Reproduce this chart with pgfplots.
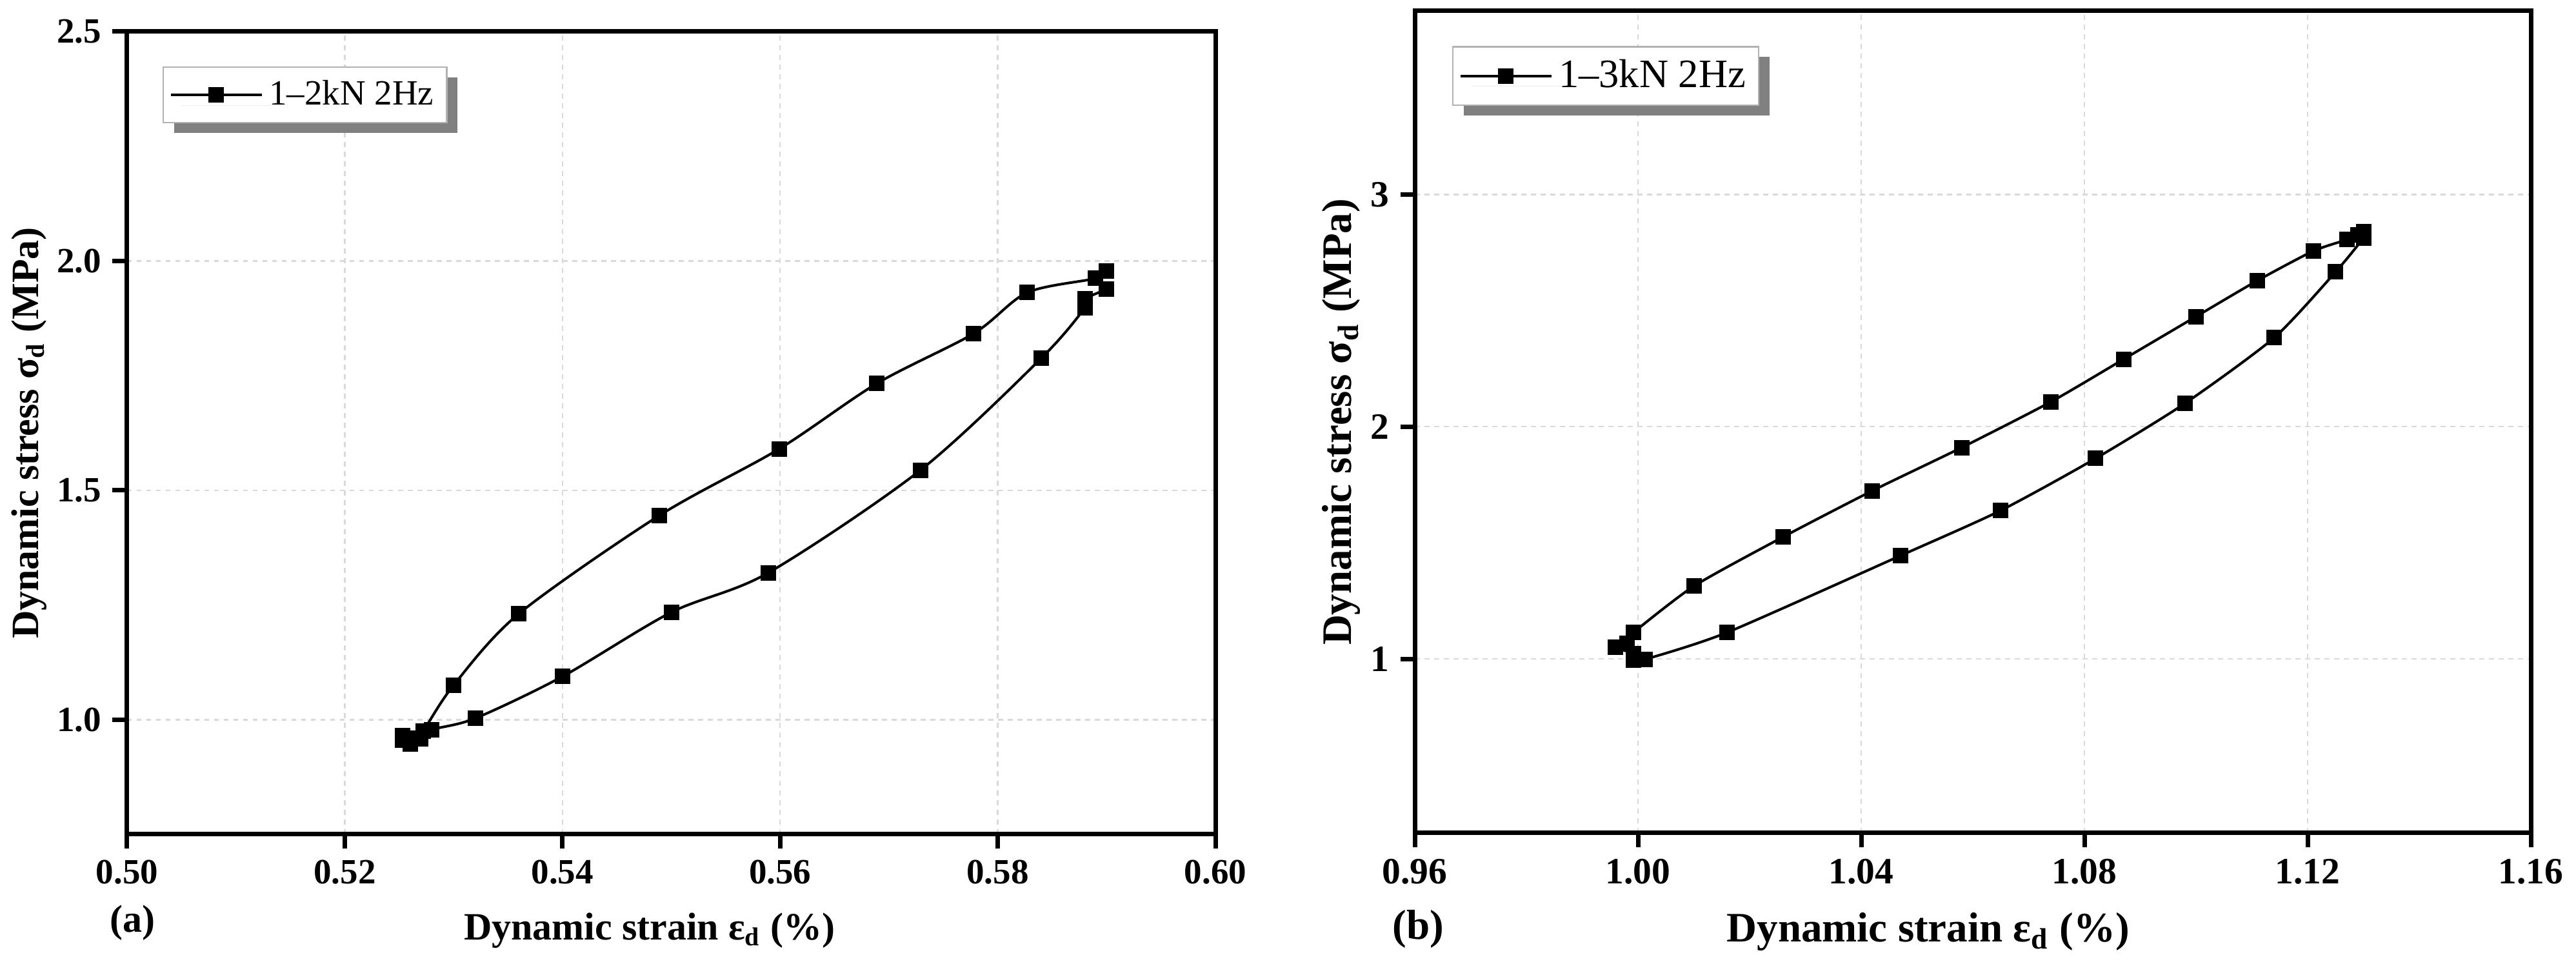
\documentclass[border=0pt]{standalone}
\usepackage{fontspec}
\setmainfont{Liberation Serif}
\usepackage{pgfplots}
\pgfplotsset{compat=1.18}
\usetikzlibrary{shadows}

\pgfplotsset{
  myaxis/.style={
    scale only axis,
    anchor=south west,
    clip mode=individual,
    axis line style={line width=1.4pt},
    tick align=outside,
    tick pos=left,
    major tick length=4.5pt,
    every tick/.style={black, line width=1.4pt},
    minor tick num=0,
    grid=major,
    major grid style={gray!30, dash pattern=on 1.5pt off 1.5pt, line width=0.5pt},
    /pgf/number format/assume math mode=true,
    legend cell align=left,
    legend image code/.code={\draw[mark repeat=2,mark phase=2,##1] plot coordinates {(0pt,0pt) (14pt,0pt) (28pt,0pt)};},
  },
  myline/.style={black, line width=0.8pt, mark=square*, mark size=2pt, mark options={solid, fill=black}},
}

\pgfplotstableread{
x y
0.5900 1.938
0.5880 1.917
0.5880 1.898
0.5840 1.788
0.5729 1.544
0.5589 1.320
0.5500 1.234
0.5400 1.094
0.5320 1.003
0.5280 0.978
0.5270 0.958
0.5260 0.947
0.5253 0.955
0.5253 0.965
0.5265 0.960
0.5272 0.975
0.5300 1.075
0.5360 1.231
0.5489 1.445
0.5599 1.590
0.5689 1.733
0.5778 1.842
0.5827 1.931
0.5890 1.962
0.5900 1.978
}\loopa

\pgfplotstableread{
x y
0.9992 1.114
1.0100 1.313
1.0260 1.525
1.0420 1.724
1.0580 1.910
1.0740 2.107
1.0870 2.290
1.1000 2.474
1.1110 2.629
1.1210 2.756
1.1270 2.805
1.1290 2.827
1.1300 2.840
1.1300 2.813
1.1250 2.666
1.1140 2.383
1.0980 2.100
1.0820 1.863
1.0650 1.639
1.0470 1.444
1.0160 1.114
1.0013 0.998
0.9992 0.994
0.9992 1.022
0.9960 1.050
0.9980 1.067
0.9992 1.114
}\loopb

\begin{document}
\begin{tikzpicture}
\path[use as bounding box] (0,0) rectangle (798.6pt,302.2pt);

\begin{axis}[myaxis,
  at={(39.4pt,43.6pt)},
  width=337.4pt, height=248.8pt,
  xmin=0.50, xmax=0.60, ymin=0.75, ymax=2.5,
  xtick={0.50,0.52,0.54,0.56,0.58,0.60},
  ytick={1.0,1.5,2.0,2.5},
  xticklabel style={font=\bfseries\fontsize{11}{13}\selectfont, /pgf/number format/.cd, fixed, fixed zerofill, precision=2},
  yticklabel style={font=\bfseries\fontsize{11}{13}\selectfont, /pgf/number format/.cd, fixed, fixed zerofill, precision=1},
  xlabel={Dynamic strain ε\textsubscript{d} (\%)},
  ylabel={Dynamic stress σ\textsubscript{d} (MPa)},
  xlabel style={font=\bfseries\fontsize{12}{14}\selectfont, at={(axis description cs:0.48,-0.12)}, anchor=center},
  ylabel style={font=\bfseries\fontsize{12}{14}\selectfont, at={(axis description cs:-0.09,0.5)}, anchor=center},
  legend style={at={(axis description cs:0.0326,0.9566)}, anchor=north west, draw=gray!60, line width=0.5pt, fill=white, font=\fontsize{11}{13}\selectfont, inner xsep=2pt, inner ysep=2pt, drop shadow={shadow xshift=3.4pt, shadow yshift=-3.2pt, fill=gray, opacity=1, draw=none}},
]
\addplot[myline, smooth, tension=0.5] table[x=x,y=y] {\loopa};
\addlegendentry{1–2kN 2Hz}
\node[font=\bfseries\fontsize{12}{14}\selectfont] at (axis description cs:0.005,-0.11) {(a)};
\end{axis}

\begin{axis}[myaxis,
  at={(438.6pt,44pt)},
  width=346pt, height=254.8pt,
  xmin=0.96, xmax=1.16, ymin=0.25, ymax=3.79,
  xtick={0.96,1.00,1.04,1.08,1.12,1.16},
  ytick={1,2,3},
  xticklabel style={font=\bfseries\fontsize{11.5}{13}\selectfont, /pgf/number format/.cd, fixed, fixed zerofill, precision=2},
  yticklabel style={font=\bfseries\fontsize{11.5}{13}\selectfont},
  xlabel={Dynamic strain ε\textsubscript{d} (\%)},
  ylabel={Dynamic stress σ\textsubscript{d} (MPa)},
  xlabel style={font=\bfseries\fontsize{13}{15}\selectfont, at={(axis description cs:0.46,-0.12)}, anchor=center},
  ylabel style={font=\bfseries\fontsize{13}{15}\selectfont, at={(axis description cs:-0.066,0.5)}, anchor=center},
  legend style={at={(axis description cs:0.0335,0.9576)}, anchor=north west, draw=gray!60, line width=0.5pt, fill=white, font=\fontsize{12.5}{14}\selectfont, inner xsep=2pt, inner ysep=2pt, drop shadow={shadow xshift=3.4pt, shadow yshift=-3.2pt, fill=gray, opacity=1, draw=none}},
]
\addplot[myline, smooth, tension=0.4] table[x=x,y=y] {\loopb};
\addlegendentry{1–3kN 2Hz}
\node[font=\bfseries\fontsize{13}{15}\selectfont] at (axis description cs:0.003,-0.117) {(b)};
\end{axis}
\end{tikzpicture}
\end{document}
